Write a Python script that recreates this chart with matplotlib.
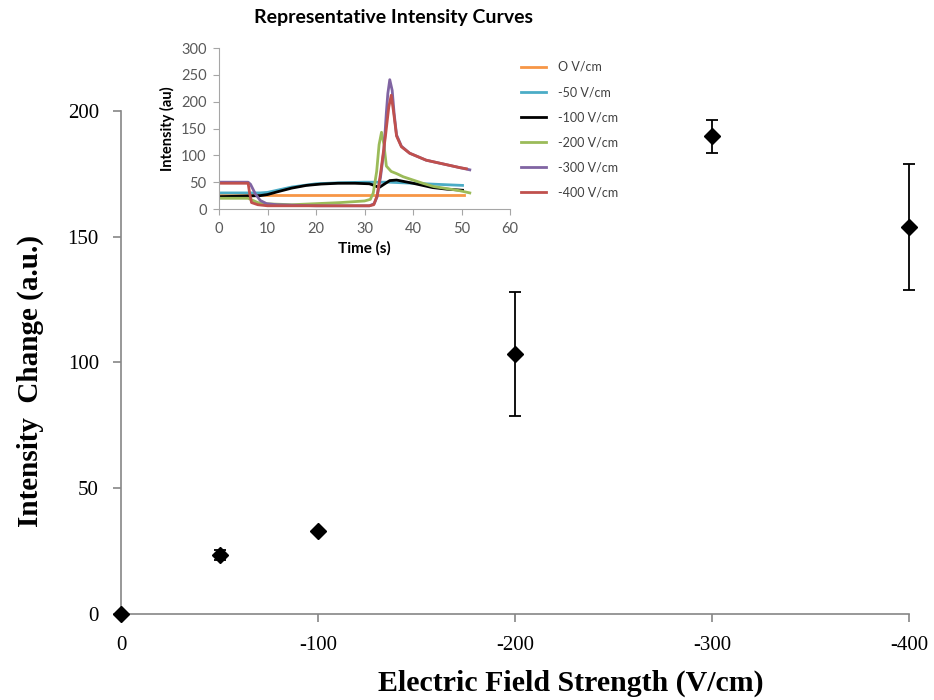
import matplotlib
matplotlib.use("Agg")
import matplotlib.pyplot as plt

plt.rcParams["axes.unicode_minus"] = False

# main chart: intensity change vs field strength
field = [0, -50, -100, -200, -300, -400]
change = [0, 23.5, 33, 103.5, 190, 154]
change_err = [0, 2, 0, 24.7, 6.5, 25]

# inset: representative intensity curves
curve_labels = ["O V/cm", "-50 V/cm", "-100 V/cm", "-200 V/cm", "-300 V/cm", "-400 V/cm"]
curve_colors = ["#F79646", "#4BACC6", "#000000", "#9BBB59", "#8064A2", "#C0504D"]

t_0 = [0, 10, 20, 30, 40, 50.5]
y_0 = [26, 26, 26, 26, 26, 26]

t_50 = [0, 5, 8.5, 10, 12, 15, 20, 25, 30, 35, 40, 45, 50.2]
y_50 = [30, 30, 30, 31, 35, 41, 47, 49, 50, 50, 48, 46, 44]

t_100 = [0, 5, 8.5, 10, 12, 15, 18, 21, 24.5, 28, 31, 32, 33, 34, 35.2, 36.6, 40, 44, 47, 50.2]
y_100 = [23, 24, 25, 27, 32, 39, 44, 46.5, 48, 48, 47, 44, 40, 46, 53, 54, 48, 40, 37, 35]

t_200 = [0, 6, 7, 8, 9, 12, 15, 20, 25, 30, 31.2, 31.8, 32.5, 33.0, 33.5, 34.0, 34.5,
         35.5, 36.6, 38, 40, 42, 44.2, 47, 49.7, 51.7]
y_200 = [20, 20, 16, 12, 10, 9, 8, 10, 12, 15, 18, 30, 70, 120, 143, 120, 80,
         70, 66, 60, 54, 48, 42, 38, 34, 30]

t_300 = [0, 6, 6.5, 7.5, 8.5, 9.8, 12, 20, 31, 32, 32.6, 33.3, 34, 34.5, 34.8, 35.2,
         35.7, 36.1, 36.6, 37.6, 39.3, 42.7, 46.2, 49.7, 51.7]
y_300 = [50, 50, 46, 28, 16, 10, 8, 6, 6, 10, 23, 60, 110, 180, 215, 241,
         221, 178, 138, 117, 104, 91, 84, 77, 73]

t_400 = [0, 6, 6.3, 6.7, 8, 10, 20, 31, 31.9, 32.6, 33.3, 34.3, 35.0, 35.5, 36.0,
         36.6, 37.6, 39.3, 42.7, 46.2, 49.7, 51.0]
y_400 = [48, 48, 30, 12, 8, 6, 6, 6, 8, 25, 66, 135, 190, 212, 180,
         136, 116, 104, 91, 84, 77, 75]

curve_t = [t_0, t_50, t_100, t_200, t_300, t_400]
curve_y = [y_0, y_50, y_100, y_200, y_300, y_400]

serif = "Liberation Serif"
sans = "Lato"
grey = "#868686"

fig = plt.figure(figsize=(9.34, 7.0), dpi=100)
ax = fig.add_axes([0.1296, 0.1229, 0.8437, 0.7185])

ax.errorbar(field, change, yerr=change_err, fmt="D", color="black", ms=8,
            ecolor="black", elinewidth=1.3, capsize=4, capthick=1.3, clip_on=False, zorder=5)
ax.set_xlim(0, -400)
ax.set_ylim(0, 200)
ax.set_xticks([0, -100, -200, -300, -400])
ax.set_yticks([0, 50, 100, 150, 200])
for s in ["top", "right"]:
    ax.spines[s].set_visible(False)
for s in ["left", "bottom"]:
    ax.spines[s].set_color(grey)
    ax.spines[s].set_linewidth(1.2)
ax.tick_params(direction="out", length=6, width=1.2, color=grey, labelsize=15, pad=10)
for lab in ax.get_xticklabels() + ax.get_yticklabels():
    lab.set_family(serif)
ax.set_xlabel("Electric Field Strength (V/cm)", family=serif, fontsize=21.5,
              fontweight="bold")
ax.set_ylabel("Intensity  Change (a.u.)", family=serif, fontsize=21,
              fontweight="bold")
ax.xaxis.set_label_coords(0.571, -0.11)
ax.yaxis.set_label_coords(-0.098, 0.463)

# inset
ins = fig.add_axes([0.2345, 0.7014, 0.3116, 0.23])
for tt, yy, c, lab in zip(curve_t, curve_y, curve_colors, curve_labels):
    ins.plot(tt, yy, color=c, lw=2, label=lab)
ins.set_xlim(0, 60)
ins.set_ylim(0, 300)
ins.set_xticks(range(0, 61, 10))
ins.set_yticks(range(0, 301, 50))
for s in ["top", "right"]:
    ins.spines[s].set_visible(False)
for s in ["left", "bottom"]:
    ins.spines[s].set_color("#A6A6A6")
ins.tick_params(direction="out", length=4, color="#A6A6A6", labelsize=10.5,
                labelcolor="#595959", pad=5)
for lab in ins.get_xticklabels() + ins.get_yticklabels():
    lab.set_family(sans)
ins.set_xlabel("Time (s)", family=sans, fontsize=11, fontweight="bold", labelpad=4)
ins.set_ylabel("Intensity (au)", family=sans, fontsize=10.5, fontweight="bold", labelpad=4)
ins.text(0.598, 1.135, "Representative Intensity Curves", transform=ins.transAxes,
         family=sans, fontsize=14, fontweight="bold", ha="center", va="bottom")
leg = ins.legend(loc="upper left", bbox_to_anchor=(1.0, 0.99), frameon=False,
                 prop={"family": sans, "size": 9}, handlelength=2.0,
                 labelspacing=1.05, handletextpad=0.9)
for t in leg.get_texts():
    t.set_color("#404040")

fig.savefig("out.png", dpi=100)
